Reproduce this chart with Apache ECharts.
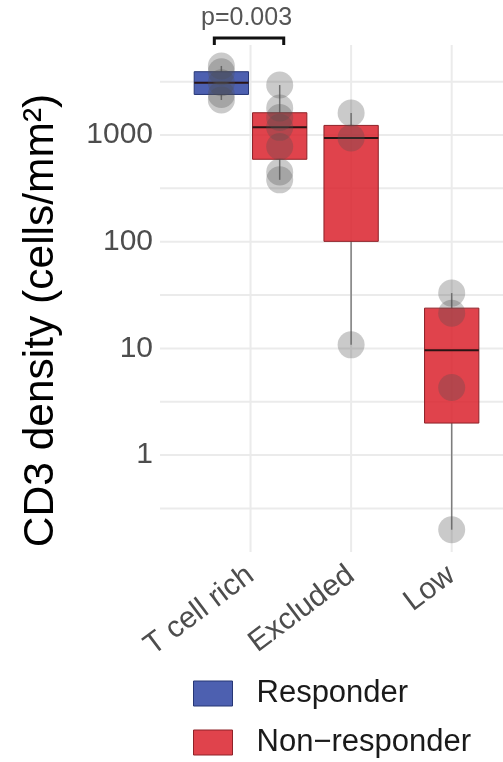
<!DOCTYPE html>
<html>
<head>
<meta charset="utf-8">
<script src="https://cdn.jsdelivr.net/npm/echarts@6/dist/echarts.min.js"></script>
<style>
  html, body { margin: 0; padding: 0; background: #ffffff; }
  #chart { width: 503px; height: 762px; }
</style>
</head>
<body>
<div id="chart"></div>
<script>
// Tumour immune phenotypes on the x axis
const categories = ['T cell rich', 'Excluded', 'Low'];
// Response groups (legend order)
const groups = ['Responder', 'Non\u2212responder'];
// CD3 density per sample (cells/mm²), one list per phenotype
const responderDensity = [[2130, 2400, 3090, 3920, 4440], [], []];
const nonResponderDensity = [[380, 450, 780, 1180, 1460, 1790, 2940], [10.8, 940, 1610], [0.2, 4.3, 21.4, 33]];
// Labelled decades on the log axis
const yTickValues = [1, 10, 100, 1000];
// Responder vs non-responder test within the T cell rich group
const comparisonLabel = 'p=0.003';
const comparisonCategory = 0;

const densityByGroup = [responderDensity, nonResponderDensity];
const FONT = 'Liberation Sans, Arial, Helvetica, sans-serif';
const groupFill = ['rgba(46,68,162,0.85)', 'rgba(219,34,45,0.85)'];
const groupStroke = ['#263675', '#8e2228'];
const DODGE = 0.29;      // half distance between dodged boxes, in category steps
const BOX_HALF = 0.27;   // half box width, in category steps
const Y_MIN = 0.1236, Y_MAX = 6975;

// Box statistics are computed on log10 values, as the axis is log scaled
function quantile(sorted, p) {
  const h = (sorted.length - 1) * p;
  const lo = Math.floor(h);
  const e = h - lo;
  return lo + 1 < sorted.length ? sorted[lo] + e * (sorted[lo + 1] - sorted[lo]) : sorted[lo];
}
function boxStats(values) {
  const l = values.map(Math.log10).sort((a, b) => a - b);
  const q1 = quantile(l, 0.25), med = quantile(l, 0.5), q3 = quantile(l, 0.75);
  const iqr = q3 - q1;
  const lo = Math.min(...l.filter(v => v >= q1 - 1.5 * iqr));
  const hi = Math.max(...l.filter(v => v <= q3 + 1.5 * iqr));
  return [lo, q1, med, q3, hi].map(v => Math.pow(10, v));
}
function isDodged(cat) {
  return densityByGroup.every(g => g[cat].length > 0);
}
function groupOffset(cat, gi, unit) {
  return isDodged(cat) ? (gi === 0 ? -1 : 1) * DODGE * unit : 0;
}
function stepPx(api) {
  return api.coord([1, 1])[0] - api.coord([0, 1])[0];
}

// Gridline positions: decades plus half-decades
const gridValues = [];
for (let k = -2; k <= 8; k++) {
  const v = Math.pow(10, k / 2);
  if (v > Y_MIN && v < Y_MAX) gridValues.push(v);
}

const gridStyle = { stroke: '#ebebeb', lineWidth: 2 };

const series = [];

// horizontal gridlines
series.push({
  type: 'custom', silent: true, z: 0,
  data: gridValues.map(v => [0, v]),
  encode: { x: 0, y: 1 },
  renderItem: function (params, api) {
    const cs = params.coordSys;
    const y = api.coord([0, api.value(1)])[1];
    return { type: 'line', shape: { x1: cs.x, y1: y, x2: cs.x + cs.width, y2: y }, style: gridStyle };
  }
});
// vertical gridlines at each phenotype
series.push({
  type: 'custom', silent: true, z: 0,
  data: categories.map((c, i) => [i, 1]),
  encode: { x: 0, y: 1 },
  renderItem: function (params, api) {
    const cs = params.coordSys;
    const x = api.coord([api.value(0), 1])[0];
    return { type: 'line', shape: { x1: x, y1: cs.y, x2: x, y2: cs.y + cs.height }, style: gridStyle };
  }
});

// boxes
groups.forEach(function (name, gi) {
  const data = [];
  densityByGroup[gi].forEach(function (vals, cat) {
    if (vals.length) data.push([cat].concat(boxStats(vals)));
  });
  series.push({
    type: 'custom', name: name, z: 2, silent: true,
    itemStyle: { color: groupFill[gi] },
    data: data,
    encode: { x: 0, y: [1, 2, 3, 4, 5] },
    renderItem: function (params, api) {
      const cat = api.value(0);
      const unit = stepPx(api);
      const cx = api.coord([cat, 1])[0] + groupOffset(cat, gi, unit);
      const hw = BOX_HALF * unit;
      const yLo = api.coord([cat, api.value(1)])[1];
      const yQ1 = api.coord([cat, api.value(2)])[1];
      const yMed = api.coord([cat, api.value(3)])[1];
      const yQ3 = api.coord([cat, api.value(4)])[1];
      const yHi = api.coord([cat, api.value(5)])[1];
      const whisker = { stroke: '#7d7d7d', lineWidth: 1.5 };
      return {
        type: 'group',
        children: [
          { type: 'line', shape: { x1: cx, y1: yQ3, x2: cx, y2: yHi }, style: whisker },
          { type: 'line', shape: { x1: cx, y1: yQ1, x2: cx, y2: yLo }, style: whisker },
          { type: 'rect', shape: { x: cx - hw, y: yQ3, width: 2 * hw, height: yQ1 - yQ3 },
            style: { fill: groupFill[gi], stroke: groupStroke[gi], lineWidth: 1 } },
          { type: 'line', shape: { x1: cx - hw, y1: yMed, x2: cx + hw, y2: yMed },
            style: { stroke: '#2a1414', lineWidth: 2 } }
        ]
      };
    }
  });
});

// individual samples
const pointData = [];
densityByGroup.forEach(function (byCat, gi) {
  byCat.forEach(function (vals, cat) {
    vals.forEach(function (v) { pointData.push([cat, v, gi]); });
  });
});
series.push({
  type: 'custom', silent: true, z: 3,
  data: pointData,
  encode: { x: 0, y: 1 },
  renderItem: function (params, api) {
    const cat = api.value(0);
    const gi = api.value(2);
    const unit = stepPx(api);
    const p = api.coord([cat, api.value(1)]);
    return { type: 'circle', shape: { cx: p[0] + groupOffset(cat, gi, unit), cy: p[1], r: 13.5 },
      style: { fill: 'rgba(80,80,80,0.3)' } };
  }
});

// significance bracket
series.push({
  type: 'custom', silent: true, z: 4, clip: false,
  data: [[comparisonCategory, 1]],
  encode: { x: 0, y: 1 },
  renderItem: function (params, api) {
    const cs = params.coordSys;
    const cat = api.value(0);
    const unit = stepPx(api);
    const c = api.coord([cat, 1])[0];
    const x1 = c - 0.36 * unit, x2 = c + 0.33 * unit;
    const y = cs.y - 7;
    return {
      type: 'group',
      children: [
        { type: 'polyline', shape: { points: [[x1, y + 7], [x1, y], [x2, y], [x2, y + 7]] },
          style: { stroke: '#111', lineWidth: 3, fill: null } },
        { type: 'text', style: { text: comparisonLabel, x: c - 4, y: y - 7, align: 'center', verticalAlign: 'bottom',
          fontSize: 25, fontFamily: FONT, fill: '#555555' } }
      ]
    };
  }
});

const chart = echarts.init(document.getElementById('chart'), null, { renderer: 'canvas' });
chart.setOption({
  animation: false,
  backgroundColor: '#ffffff',
  grid: { left: 160, right: 0, top: 45, bottom: 210 },
  legend: {
    orient: 'vertical', left: 193, top: 678, width: 300, height: 150, padding: 0,
    itemWidth: 39, itemHeight: 25, itemGap: 18,
    icon: 'rect',
    selectedMode: false,
    textStyle: { fontSize: 31, lineHeight: 25, fontFamily: FONT, color: '#1a1a1a', padding: [0, 0, 0, 19] },
    data: groups.map((g, gi) => ({ name: g, itemStyle: { color: groupFill[gi], borderColor: groupStroke[gi], borderWidth: 1 } }))
  },
  xAxis: {
    type: 'value', min: -0.9, max: 2.51,
    axisLine: { show: false }, axisTick: { show: false }, splitLine: { show: false },
    axisLabel: {
      customValues: categories.map((c, i) => i),
      formatter: v => categories[Math.round(v)] || '',
      rotate: 37, fontSize: 30, fontFamily: FONT, color: '#4d4d4d', margin: 20
    }
  },
  yAxis: {
    type: 'log', logBase: 10, min: Y_MIN, max: Y_MAX, splitNumber: 4,
    name: 'CD3 density (cells/mm²)', nameLocation: 'middle', nameGap: 97,
    nameTextStyle: { fontSize: 42.5, fontFamily: FONT, color: '#000000', padding: [0, 44, 0, 0] },
    axisLine: { show: false }, axisTick: { show: false }, splitLine: { show: false },
    axisLabel: {
      fontSize: 30, fontFamily: FONT, color: '#4d4d4d', margin: 7,
      formatter: function (v) {
        const hit = yTickValues.find(t => Math.abs(Math.log10(v) - Math.log10(t)) < 1e-6);
        return hit === undefined ? '' : String(hit);
      }
    }
  },
  series: series
});
</script>
</body>
</html>
